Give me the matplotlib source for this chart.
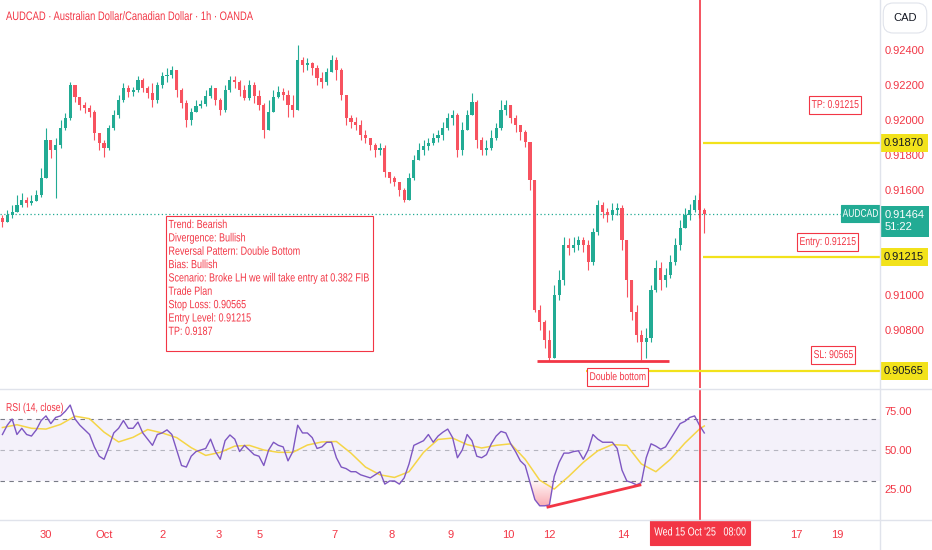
import matplotlib
matplotlib.use('Agg')
import matplotlib.pyplot as plt
import numpy as np
import matplotlib.transforms as mtransforms
from matplotlib.font_manager import FontProperties
from matplotlib.patches import Rectangle
from matplotlib.patheffects import AbstractPathEffect
from matplotlib.lines import Line2D
from matplotlib.path import Path
from matplotlib.textpath import TextPath
from matplotlib.colors import LinearSegmentedColormap

plt.rcParams['font.family'] = ['Liberation Sans', 'DejaVu Sans']

# AUDCAD 2h bars
first_open = 0.91440
closes = [0.91417, 0.91457, 0.91474, 0.91514, 0.91543, 0.91526, 0.91537, 0.91571, 0.91669, 0.91886,
          0.91829, 0.91857, 0.91954, 0.92011, 0.92200, 0.92131, 0.92086, 0.92069, 0.92046, 0.91926,
          0.91869, 0.91840, 0.91954, 0.92029, 0.92114, 0.92183, 0.92160, 0.92171, 0.92229, 0.92183,
          0.92154, 0.92114, 0.92200, 0.92251, 0.92257, 0.92286, 0.92171, 0.92097, 0.92000, 0.92046,
          0.92080, 0.92091, 0.92137, 0.92183, 0.92114, 0.92057, 0.92171, 0.92229, 0.92217, 0.92171,
          0.92126, 0.92200, 0.92137, 0.92086, 0.91943, 0.92046, 0.92131, 0.92160, 0.92143, 0.92086,
          0.92057, 0.92343, 0.92314, 0.92326, 0.92297, 0.92240, 0.92217, 0.92274, 0.92343, 0.92286,
          0.92143, 0.92011, 0.91989, 0.91971, 0.91914, 0.91897, 0.91857, 0.91829, 0.91840, 0.91703,
          0.91669, 0.91646, 0.91600, 0.91543, 0.91669, 0.91771, 0.91829, 0.91851, 0.91869, 0.91897,
          0.91914, 0.91954, 0.92011, 0.92029, 0.91829, 0.91943, 0.92029, 0.92103, 0.91886, 0.91829,
          0.91840, 0.91897, 0.91954, 0.92057, 0.92086, 0.92011, 0.91971, 0.91931, 0.91874, 0.91657,
          0.90914, 0.90846, 0.90743, 0.90640, 0.91000, 0.91086, 0.91286, 0.91269, 0.91286, 0.91314,
          0.91286, 0.91189, 0.91360, 0.91514, 0.91474, 0.91457, 0.91486, 0.91497, 0.91314, 0.91086,
          0.90903, 0.90771, 0.90731, 0.90754, 0.91029, 0.91154, 0.91086, 0.91114, 0.91189, 0.91286,
          0.91383, 0.91457, 0.91486, 0.91543, 0.91486, 0.91464]
highs = [0.91457, 0.91486, 0.91514, 0.91571, 0.91583, 0.91560, 0.91571, 0.91600, 0.91726, 0.91954,
         0.91886, 0.91897, 0.92000, 0.92040, 0.92217, 0.92200, 0.92131, 0.92103, 0.92086, 0.92057,
         0.91914, 0.91886, 0.91971, 0.92057, 0.92143, 0.92211, 0.92200, 0.92189, 0.92251, 0.92240,
         0.92194, 0.92211, 0.92217, 0.92274, 0.92297, 0.92309, 0.92286, 0.92183, 0.92114, 0.92069,
         0.92114, 0.92114, 0.92171, 0.92200, 0.92183, 0.92126, 0.92200, 0.92251, 0.92251, 0.92229,
         0.92200, 0.92229, 0.92217, 0.92171, 0.92097, 0.92114, 0.92171, 0.92194, 0.92183, 0.92171,
         0.92143, 0.92429, 0.92360, 0.92354, 0.92331, 0.92314, 0.92274, 0.92297, 0.92371, 0.92360,
         0.92297, 0.92143, 0.92029, 0.92017, 0.92000, 0.91943, 0.91886, 0.91869, 0.91869, 0.91857,
         0.91703, 0.91680, 0.91646, 0.91611, 0.91697, 0.91800, 0.91869, 0.91886, 0.91897, 0.91926,
         0.91943, 0.91989, 0.92040, 0.92057, 0.92040, 0.91989, 0.92057, 0.92154, 0.92114, 0.91903,
         0.91886, 0.91943, 0.91983, 0.92114, 0.92114, 0.92069, 0.92029, 0.91971, 0.91943, 0.91857,
         0.91629, 0.90943, 0.90857, 0.90800, 0.91057, 0.91143, 0.91331, 0.91326, 0.91331, 0.91337,
         0.91331, 0.91314, 0.91383, 0.91543, 0.91531, 0.91497, 0.91526, 0.91526, 0.91514, 0.91314,
         0.91057, 0.90943, 0.90800, 0.90811, 0.91057, 0.91200, 0.91189, 0.91154, 0.91229, 0.91326,
         0.91429, 0.91497, 0.91520, 0.91571, 0.91583, 0.91497]
lows = [0.91389, 0.91417, 0.91440, 0.91474, 0.91503, 0.91503, 0.91514, 0.91543, 0.91560, 0.91669,
        0.91783, 0.91554, 0.91840, 0.91943, 0.92000, 0.92103, 0.92057, 0.92040, 0.92017, 0.91886,
        0.91829, 0.91789, 0.91829, 0.91943, 0.92011, 0.92103, 0.92131, 0.92137, 0.92160, 0.92160,
        0.92126, 0.92074, 0.92097, 0.92183, 0.92217, 0.92240, 0.92131, 0.92069, 0.91960, 0.91971,
        0.92046, 0.92069, 0.92080, 0.92126, 0.92086, 0.92029, 0.92046, 0.92160, 0.92183, 0.92137,
        0.92114, 0.92114, 0.92097, 0.92057, 0.91897, 0.91989, 0.92046, 0.92126, 0.92114, 0.92017,
        0.92017, 0.92057, 0.92274, 0.92286, 0.92257, 0.92200, 0.92183, 0.92200, 0.92274, 0.92229,
        0.92114, 0.91971, 0.91954, 0.91943, 0.91886, 0.91869, 0.91829, 0.91789, 0.91800, 0.91674,
        0.91640, 0.91623, 0.91566, 0.91531, 0.91543, 0.91657, 0.91771, 0.91800, 0.91829, 0.91857,
        0.91874, 0.91886, 0.91943, 0.91971, 0.91789, 0.91800, 0.91954, 0.92029, 0.91840, 0.91800,
        0.91800, 0.91829, 0.91886, 0.91943, 0.92029, 0.91983, 0.91931, 0.91886, 0.91846, 0.91600,
        0.90903, 0.90800, 0.90697, 0.90623, 0.90646, 0.90971, 0.91057, 0.91229, 0.91246, 0.91257,
        0.91246, 0.91143, 0.91171, 0.91343, 0.91440, 0.91417, 0.91429, 0.91457, 0.91257, 0.90989,
        0.90857, 0.90731, 0.90629, 0.90640, 0.90731, 0.91017, 0.91029, 0.91046, 0.91097, 0.91171,
        0.91257, 0.91383, 0.91429, 0.91474, 0.91440, 0.91354]

rsi = [60, 66, 70, 60, 64, 60, 59, 63, 69, 72,
       67, 71, 72, 75, 79, 70, 66, 63, 60, 52,
       46, 44, 52, 61, 64, 69, 64, 64, 68, 61,
       57, 53, 60, 61, 63, 60, 50, 40, 39, 46,
       49, 50, 51, 57, 49, 44, 56, 59.7, 57, 49,
       53, 50, 47, 46, 40, 50, 55, 53, 52, 43,
       49, 66, 61, 61, 58, 51, 52, 55, 55, 45,
       39, 38, 36, 36, 34, 33, 32, 34, 36, 28,
       30, 30, 28, 32, 41, 53, 54.5, 56, 60, 55,
       59, 61.5, 63.5, 58, 45, 50, 60, 56, 46, 45,
       47, 54, 59, 62, 61, 54, 49, 43, 40, 29,
       18, 14, 14, 14.5, 33, 42, 48, 48, 49, 49.5,
       44, 50, 60, 57, 55, 55, 55, 51, 37, 30,
       29, 27.5, 29, 45, 54, 52.5, 50.5, 52, 57, 62,
       67, 68.5, 71, 72, 66, 61]
# RSI-based MA, read every 3rd bar (plus the last one)
rsi_ma = [64.5, 66.3, 64, 63.5, 66.5, 71.8, 70.2, 61.5, 55.2, 58.2,
          63.2, 61, 58, 51.5, 46.5, 48.5, 52.5, 53, 50, 48.5,
          48.5, 53.2, 55.2, 55.5, 48, 39, 34, 32.3, 36, 48.5,
          56.8, 57.7, 53.5, 51.3, 53, 54, 44, 30.5, 24.8, 33,
          42, 49.5, 53.5, 53, 41, 36, 44, 54.5, 63.5, 65.5]

tick_labels = ['30', 'Oct', '2', '3', '5', '7', '8', '9', '10', '12', '14', '17', '19']
tick_pos = [9.0, 21.0, 33.0, 44.7, 53.2, 68.5, 80.5, 92.5, 104.5, 112.9, 128.2, 164.0, 172.4]

tp_level = 0.91870
entry_level = 0.91215
sl_level = 0.90565
last_price = 0.91464

TITLE = 'AUDCAD · Australian Dollar/Canadian Dollar · 1h · OANDA'
PLAN = ("Trend: Bearish\nDivergence: Bullish\nReversal Pattern: Double Bottom\nBias: Bullish\n"
        "Scenario: Broke LH we will take entry at 0.382 FIB\nTrade Plan\nStop Loss: 0.90565\n"
        "Entry Level: 0.91215\nTP: 0.9187")

RED = '#f23645'
UP = '#22ab94'
DOWN = '#f7525f'
YEL = '#f2e21b'
GRID = '#e0e3eb'
PT = 100 / 72
SANS = FontProperties(family=['Liberation Sans', 'DejaVu Sans'])


class Squeeze(AbstractPathEffect):
    # the chart's drawing texts use a narrow face: draw glyphs scaled in x
    def __init__(self, sx):
        super().__init__()
        self.sx = sx

    def draw_path(self, renderer, gc, tpath, affine, rgbFace=None):
        renderer.draw_path(gc, tpath, mtransforms.Affine2D().scale(self.sx, 1) + affine, rgbFace)


def text_w(s, size):
    return TextPath((0, 0), s, size=size, prop=SANS).get_extents().width


NOTE = 8.5
SX = float(np.clip(200 / (text_w('Scenario: Broke LH we will take entry at 0.382 FIB', NOTE) * PT), 0.6, 1))


def narrow(host, x, y, s, trans, size=NOTE, color=RED, ha='left', va='center',
           box=None, zorder=5, **kw):
    w = max(text_w(ln, size) for ln in s.split('\n')) * SX
    dx = {'left': 0, 'center': -w / 2, 'right': -w}[ha]
    host.annotate(s, xy=(x, y), xycoords=trans, xytext=(dx, 0), textcoords='offset points',
                  ha='left', va=va, fontsize=size, color=color, annotation_clip=False,
                  zorder=zorder, path_effects=[Squeeze(SX)], **kw)
    if box:
        fc, ec, px, py = box
        h = size * 0.95
        base = mtransforms.Affine2D().scale(PT) + mtransforms.ScaledTranslation(x, y, trans)
        host.add_artist(Rectangle((dx - px, -h / 2 - py), w + 2 * px, h + 2 * py, transform=base,
                                  fc=fc, ec=ec, lw=0.8, zorder=zorder - 0.1, clip_on=False))


closes = np.array(closes)
highs = np.array(highs)
lows = np.array(lows)
rsi = np.array(rsi, dtype=float)
n = len(closes)
x = np.arange(n)
opens = np.concatenate([[first_open], closes[:-1]])
highs = np.maximum(highs, np.maximum(opens, closes))
lows = np.minimum(lows, np.minimum(opens, closes))
colors = np.where(closes >= opens, UP, DOWN)

XL = (-0.5, 181.3)

fig = plt.figure(figsize=(9.32, 5.5), dpi=100)
ax = fig.add_axes([0, 1 - 388 / 550, 880 / 932, 388 / 550])
ar = fig.add_axes([0, 30 / 550, 880 / 932, 130 / 550])
ax.set_xlim(*XL)
ax.set_ylim(0.904686, 0.926857)
ar.set_xlim(*XL)
ar.set_ylim(4.84, 88.71)

# ---- price panel
ax.vlines(x, lows, highs, colors=colors, lw=0.8, zorder=2)
body = np.maximum(np.abs(closes - opens), 0.00003)
ax.bar(x, body, bottom=np.minimum(opens, closes), width=0.65, color=colors, zorder=2)

ax.axhline(last_price, color=UP, lw=0.9, ls=(0, (1, 2)), zorder=1)
ax.axvline(144.1, color=RED, lw=1.2, zorder=3)
ax.hlines([tp_level, entry_level], 144.8, XL[1], color=YEL, lw=1.6, zorder=3)
ax.hlines(sl_level, 120.6, XL[1], color=YEL, lw=1.6, zorder=3)
ax.hlines(0.90623, 110.5, 137.7, color=RED, lw=2, zorder=3)

lbl_box = ('white', RED, 2.0, 2.4)
narrow(ax, 172.0, 0.92086, 'TP: 0.91215', ax.transData, size=8.2, ha='center', box=lbl_box)
narrow(ax, 170.4, 0.91303, 'Entry: 0.91215', ax.transData, size=8.2, ha='center', box=lbl_box)
narrow(ax, 171.6, 0.90657, 'SL: 90565', ax.transData, size=8.2, ha='center', box=lbl_box)
narrow(ax, 127.0, 0.90531, 'Double bottom', ax.transData, size=8.2, ha='center', box=lbl_box)

ax.add_patch(Rectangle((33.8, 0.90680), 42.8, 0.00771, fc='white', ec=RED, lw=0.8, zorder=4))
narrow(ax, 34.3, 0.91434, PLAN, ax.transData, va='top', linespacing=1.15)

ax.yaxis.tick_right()
yt = [0.908, 0.910, 0.916, 0.918, 0.920, 0.922, 0.924]
ax.set_yticks(yt)
ax.set_yticklabels(['%.5f' % v for v in yt])
ax.tick_params(axis='y', length=0, pad=3, labelcolor=RED, labelsize=8)
ax.set_xticks([])
for s in ax.spines.values():
    s.set_visible(False)

tr = mtransforms.blended_transform_factory(ax.transAxes, ax.transData)
for lvl in (tp_level, entry_level, sl_level):
    ax.text(1 + 4 / 880, lvl, '%.5f' % lvl, transform=tr, ha='left', va='center',
            fontsize=8, color='#131722', clip_on=False, zorder=6,
            bbox=dict(boxstyle='square,pad=0.35', fc=YEL, ec='none'))
narrow(ax, 1 - 2 / 880, last_price, 'AUDCAD', tr, size=8, color='white', ha='right',
       box=(UP, UP, 1.4, 2.2), zorder=6)
ax.annotate('0.91464\n51:22', xy=(1, last_price), xycoords=tr, xytext=(3, -5.5),
            textcoords='offset points', ha='left', va='center', fontsize=8,
            color='white', linespacing=1.25, annotation_clip=False, zorder=6,
            bbox=dict(boxstyle='square,pad=0.4', fc=UP, ec='none'))

# ---- RSI panel
ar.axhspan(30, 70, color='#7e57c2', alpha=0.08, lw=0)
for lvl, a in ((70, 1), (50, 0.5), (30, 1)):
    ar.axhline(lvl, color='#787b86', lw=0.8, dashes=(4, 4), alpha=a)
ar.plot(x, rsi, color='#7e57c2', lw=1, zorder=3)
ma_idx = list(range(0, n - 1, 3)) + [n - 1]
ar.plot(ma_idx, rsi_ma, color='#f5d547', lw=1.1, zorder=2.5)

poly = ar.fill_between(x, rsi, 30, where=rsi < 30, interpolate=True, color='none')
cmap = LinearSegmentedColormap.from_list('os', [(0.95, 0.21, 0.27, 0.05), (0.95, 0.21, 0.27, 0.6)])
img = ar.imshow(np.linspace(0, 1, 100)[:, None], extent=[XL[0], XL[1], 4.84, 30],
                aspect='auto', cmap=cmap, zorder=2)
img.set_clip_path(Path.make_compound_path(*poly.get_paths()), transform=ar.transData)
ar.set_xlim(*XL)
ar.set_ylim(4.84, 88.71)

ar.plot([112.7, 131.7], [13.2, 27.4], color=RED, lw=2, zorder=4)
ar.axvline(144.1, color=RED, lw=1.2, zorder=5)

ar.yaxis.tick_right()
ar.set_yticks([25, 50, 75])
ar.set_yticklabels(['25.00', '50.00', '75.00'])
ar.tick_params(axis='y', length=0, pad=3, labelcolor=RED, labelsize=8)
ar.set_xticks(tick_pos)
ar.set_xticklabels(tick_labels)
ar.tick_params(axis='x', length=0, pad=7, labelcolor=RED, labelsize=8)
for s in ar.spines.values():
    s.set_visible(False)
narrow(ar, 6 / 880, 0.8615, 'RSI (14, close)', ar.transAxes, size=8.2)
trx = mtransforms.blended_transform_factory(ar.transData, ar.transAxes)
narrow(ar, 144.1, -0.096, "Wed 15 Oct '25   08:00", trx, size=8.5, color='white',
       ha='center', box=(RED, RED, 3.4, 5.0), zorder=6)

# ---- frame lines, header
fig.add_artist(Line2D([880 / 932] * 2, [0, 1], color=GRID, lw=1, transform=fig.transFigure))
fig.add_artist(Line2D([0, 1], [1 - 388.5 / 550] * 2, color=GRID, lw=1, transform=fig.transFigure))
fig.add_artist(Line2D([0, 1], [30 / 550] * 2, color=GRID, lw=1, transform=fig.transFigure))
title_size = float(np.clip(247 / (text_w(TITLE, 1) * PT * SX), 7, 10))
narrow(ax, 6 / 932, 1 - 17 / 550, TITLE, fig.transFigure, size=title_size)
fig.text(905 / 932, 1 - 18 / 550, 'CAD', ha='center', va='center', fontsize=8, color='#131722',
         bbox=dict(boxstyle='round,pad=0.9', fc='white', ec=GRID, lw=0.8))

fig.savefig('out.png', dpi=100)
